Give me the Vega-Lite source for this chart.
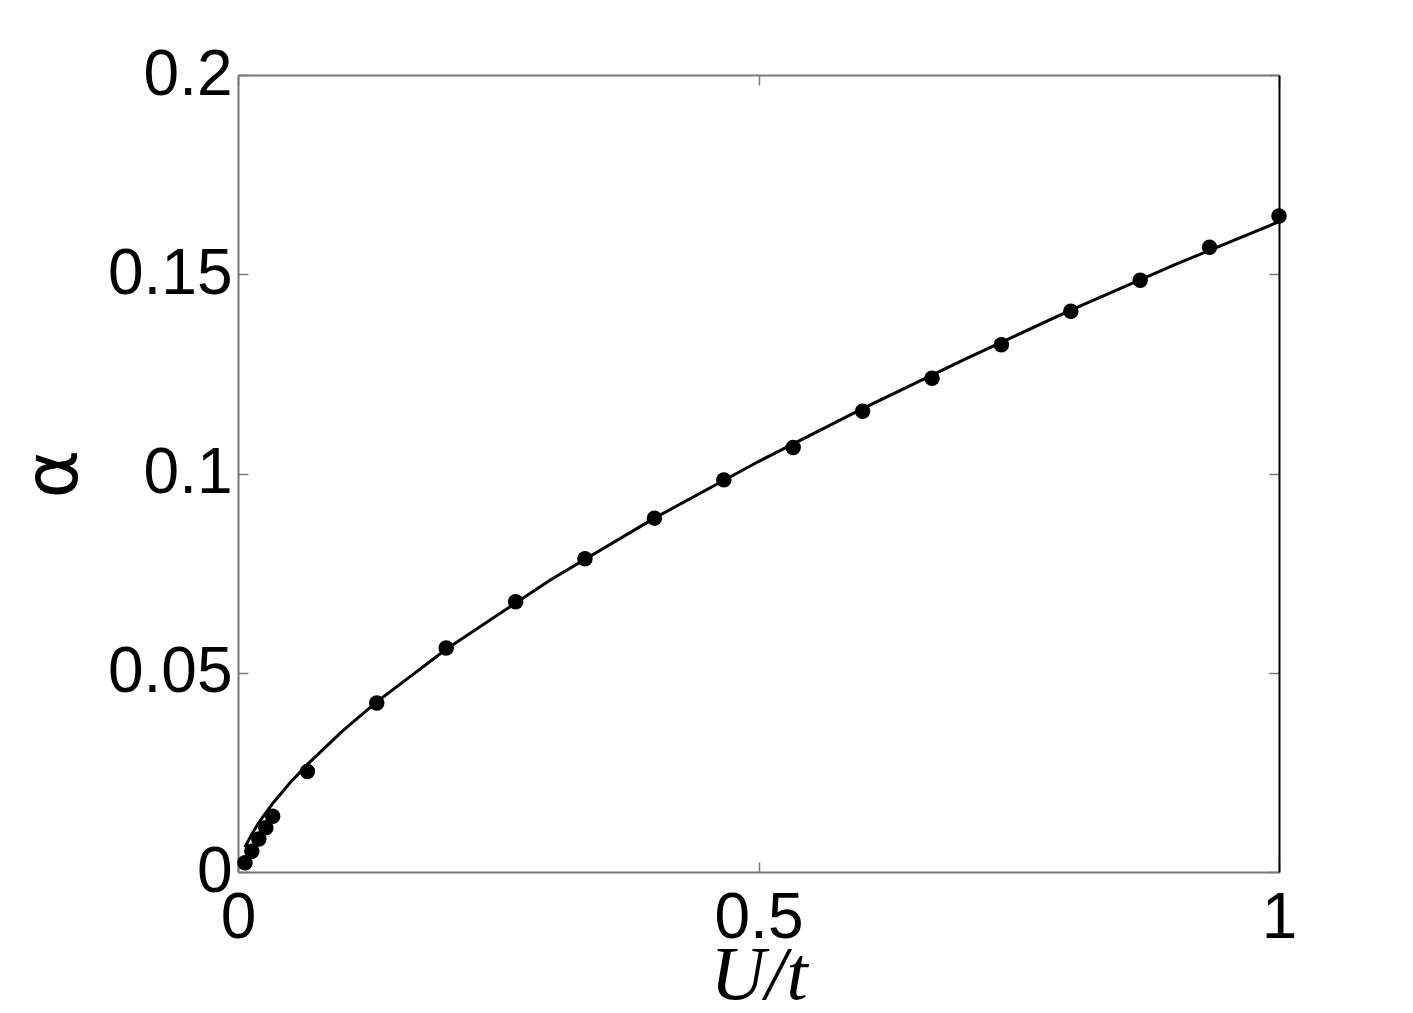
{
  "$schema": "https://vega.github.io/schema/vega-lite/v6.json",
  "autosize": "none",
  "width": 1041,
  "height": 797,
  "padding": {"left": 238, "top": 75, "right": 134, "bottom": 141},
  "background": "white",
  "config": {
    "view": {"stroke": null},
    "axis": {"grid": false, "labelFont": "Liberation Sans", "labelFontSize": 64, "labelColor": "black", "tickColor": "#777777", "tickSize": -10, "tickWidth": 1.5, "domainColor": "#777777", "domainWidth": 2}
  },
  "datasets": {
    "fit": [
      {"U": 0.0067, "alpha": 0.0062},
      {"U": 0.0133, "alpha": 0.0095},
      {"U": 0.02, "alpha": 0.0124},
      {"U": 0.0333, "alpha": 0.0172},
      {"U": 0.05, "alpha": 0.0224},
      {"U": 0.0667, "alpha": 0.027},
      {"U": 0.1, "alpha": 0.0353},
      {"U": 0.1333, "alpha": 0.0427},
      {"U": 0.2, "alpha": 0.0559},
      {"U": 0.3, "alpha": 0.0733},
      {"U": 0.4, "alpha": 0.0888},
      {"U": 0.5, "alpha": 0.103},
      {"U": 0.6, "alpha": 0.1163},
      {"U": 0.7, "alpha": 0.1289},
      {"U": 0.8, "alpha": 0.141},
      {"U": 0.9, "alpha": 0.1524},
      {"U": 1.0, "alpha": 0.1632}
    ],
    "pts": [
      {"U": 0.0067, "alpha": 0.0023},
      {"U": 0.0133, "alpha": 0.0052},
      {"U": 0.02, "alpha": 0.0083},
      {"U": 0.0267, "alpha": 0.0111},
      {"U": 0.0333, "alpha": 0.014},
      {"U": 0.0667, "alpha": 0.0252},
      {"U": 0.1333, "alpha": 0.0424},
      {"U": 0.2, "alpha": 0.0562},
      {"U": 0.2667, "alpha": 0.0678},
      {"U": 0.3333, "alpha": 0.0786},
      {"U": 0.4, "alpha": 0.0888},
      {"U": 0.4667, "alpha": 0.0984},
      {"U": 0.5333, "alpha": 0.1065},
      {"U": 0.6, "alpha": 0.1156},
      {"U": 0.6667, "alpha": 0.1239},
      {"U": 0.7333, "alpha": 0.1323},
      {"U": 0.8, "alpha": 0.1407},
      {"U": 0.8667, "alpha": 0.1485},
      {"U": 0.9333, "alpha": 0.1568},
      {"U": 1.0, "alpha": 0.1646}
    ]
  },
  "layer": [
    {
      "data": {"name": "fit"},
      "mark": {"type": "line", "color": "black", "strokeWidth": 3, "clip": true},
      "encoding": {
        "x": {"field": "U", "type": "quantitative", "scale": {"domain": [0, 1], "nice": false, "zero": false},
          "axis": {"orient": "bottom", "values": [0, 0.5, 1], "format": "~g", "labelPadding": 24, "labelFlush": false,
            "title": "U/t", "titleFont": "Liberation Serif", "titleFontStyle": "italic", "titleFontWeight": "normal", "titleFontSize": 76, "titleColor": "black", "titlePadding": -12}},
        "y": {"field": "alpha", "type": "quantitative", "scale": {"domain": [0, 0.2], "nice": false, "zero": false},
          "axis": {"orient": "left", "values": [0, 0.05, 0.1, 0.15, 0.2], "format": "~g", "labelPadding": 16, "labelFlush": false,
            "title": "α", "titleFont": "DejaVu Sans", "titleFontWeight": "normal", "titleFontSize": 74, "titleColor": "black", "titlePadding": 15}}
      }
    },
    {
      "data": {"name": "pts"},
      "mark": {"type": "circle", "color": "black", "opacity": 1, "size": 240},
      "encoding": {
        "x": {"field": "U", "type": "quantitative",
          "axis": {"orient": "top", "values": [0, 0.5, 1], "labels": false, "title": null}},
        "y": {"field": "alpha", "type": "quantitative",
          "axis": {"orient": "right", "values": [0, 0.05, 0.1, 0.15, 0.2], "labels": false, "title": null, "domainColor": "black"}}
      }
    }
  ],
  "resolve": {"axis": {"x": "independent", "y": "independent"}}
}
